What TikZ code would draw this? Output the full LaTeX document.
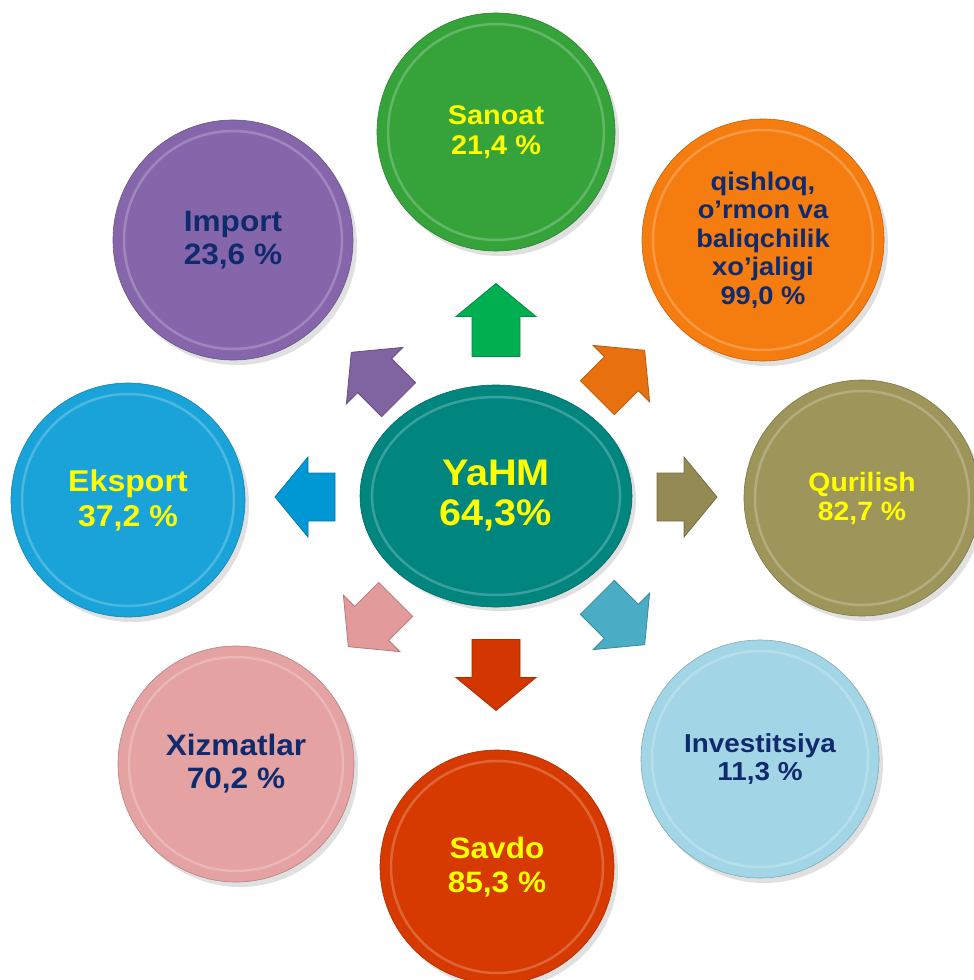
\documentclass[tikz,border=0pt]{standalone}
\usepackage{fontspec}
\setmainfont{Liberation Sans}[FakeStretch=1.07]
\usetikzlibrary{shapes.geometric}
\definecolor{navy}{HTML}{102A6E}
\definecolor{yel}{HTML}{FFFF00}
\definecolor{cSan}{HTML}{36A33A}
\definecolor{cQis}{HTML}{F57C0F}
\definecolor{cImp}{HTML}{8566AB}
\definecolor{cEks}{HTML}{1AA3D8}
\definecolor{cQur}{HTML}{9E955A}
\definecolor{cInv}{HTML}{A2D5E6}
\definecolor{cSav}{HTML}{D63A00}
\definecolor{cXiz}{HTML}{E4A2A2}
\definecolor{cCen}{HTML}{01857F}
\definecolor{aGreen}{HTML}{00B050}
\definecolor{aOrange}{HTML}{E8700F}
\definecolor{aOlive}{HTML}{948A54}
\definecolor{aBlueD}{HTML}{4BACC6}
\definecolor{aRed}{HTML}{D43600}
\definecolor{aPink}{HTML}{E39A9A}
\definecolor{aBlue}{HTML}{0098D4}
\definecolor{aPurple}{HTML}{8064A2}
\tikzset{
  bigarrow/.pic={
    \path[pic actions] (-#1/2,-24) -- (#1/2-33,-24) -- (#1/2-33,-40) -- (#1/2,0)
      -- (#1/2-33,40) -- (#1/2-33,24) -- (-#1/2,24) -- cycle;
  },
  disc/.style args={#1/#2}{circle, minimum size=#2, inner sep=0pt, fill=#1,
    draw=#1!80!black, line width=0.6pt, align=center,
    path picture={\draw[#1!60!white, line width=2.5pt, opacity=.55]
      (path picture bounding box.center) circle[radius=#2/2-11];}},
  shadowdisc/.style={circle, fill=black, opacity=.12, inner sep=0pt},
  lbl/.style args={#1/#2}{font=\bfseries\fontsize{#1}{#2}\selectfont},
  arr/.style={fill=#1, draw=#1!80!black, line width=0.8pt}
}
\begin{document}
\begin{tikzpicture}[x=1pt,y=-1pt]
\useasboundingbox (0,0) rectangle (974,980);
% shadows
\foreach \x/\y/\r in {496/132/119, 763/240/121, 233/240/120, 128/500/117, 862/498/118, 236/764/118, 497/867/117, 760/759/119}
  \node[shadowdisc, minimum size=2*\r] at (\x+4,\y+5) {};
\node[shadowdisc, ellipse, minimum width=272, minimum height=222] at (500,500) {};
% circles
\node[disc={cSan/238}, text=yel, lbl=27/30] (san) at (496,132) {Sanoat\\21,4 \%};
\node[disc={cQis/242}, text=navy, lbl=25.5/28.5] (qis) at (763,240) {qishloq,\\o’rmon va\\baliqchilik\\xo’jaligi\\99,0 \%};
\node[disc={cImp/240}, text=navy, lbl=29.5/33] (imp) at (233,240) {Import\\23,6 \%};
\node[disc={cEks/234}, text=yel, lbl=30/35] (eks) at (128,500) {Eksport\\37,2 \%};
\node[disc={cQur/236}, text=yel, lbl=26.5/29] (qur) at (862,498) {Qurilish\\82,7 \%};
\node[disc={cXiz/236}, text=navy, lbl=29.5/33] (xiz) at (236,764) {Xizmatlar\\70,2 \%};
\node[disc={cSav/234}, text=yel, lbl=29.5/34] (sav) at (497,867) {Savdo\\85,3 \%};
\node[disc={cInv/238}, text=navy, lbl=26/28] (inv) at (760,759) {Investitsiya\\11,3 \%};
% center ellipse
\node[ellipse, minimum width=272, minimum height=222, inner sep=0pt, fill=cCen,
  draw=cCen!80!black, line width=0.6pt, align=center, text=yel, lbl=37/40,
  path picture={\draw[cCen!55!white, line width=2.5pt, opacity=.5]
    (path picture bounding box.center) ellipse[x radius=124, y radius=99];}]
  (cen) at (496,496) {YaHM\\64,3\%};
% arrows
\pic[arr=aGreen, rotate=90] at (496,320) {bigarrow=73};
\pic[arr=aRed, rotate=-90] at (496,675) {bigarrow=71};
\pic[arr=aBlue, rotate=180] at (305,497) {bigarrow=60};
\pic[arr=aOlive, rotate=0] at (687,497) {bigarrow=60};
\pic[arr=aPurple, rotate=135] at (375,376) {bigarrow=67};
\pic[arr=aOrange, rotate=45] at (621,374) {bigarrow=67};
\pic[arr=aPink, rotate=-135] at (372,623) {bigarrow=67};
\pic[arr=aBlueD, rotate=-45] at (621,621) {bigarrow=67};
\end{tikzpicture}
\end{document}
